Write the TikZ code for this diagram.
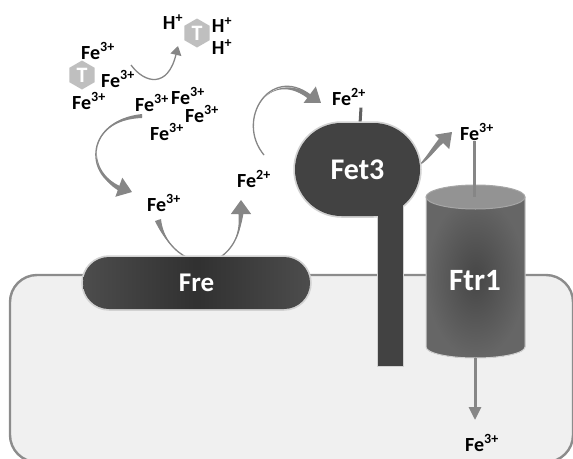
\documentclass[tikz,border=0pt]{standalone}
\usepackage{fontspec}
\setmainfont{Carlito}
\usetikzlibrary{arrows.meta,shapes.geometric,shapes.misc}
\tikzset{
    ion/.style={font=\fontsize{20}{20}\bfseries, inner sep=0pt},
    protein/.style={font=\fontsize{27}{27}\bfseries, text=white, inner sep=0pt},
    hexring/.style={regular polygon, regular polygon sides=6, regular polygon rotate=30, minimum size=29pt, inner sep=0pt, fill=gray!50!white, text=white, font=\fontsize{22}{22}\bfseries},
    halo/.style={preaction={draw=gray!35, line width=3.5pt}},
    flow/.style={draw=gray!95, -{Triangle[length=14pt,width=20pt]}},
    flowthin/.style={draw=gray!95, line width=1.3pt, -{Triangle[length=9pt,width=11pt]}},
    taper/.style={fill=gray!95},
}
\newcommand{\feiii}{Fe\textsuperscript{3+}}
\newcommand{\feii}{Fe\textsuperscript{2+}}
\newcommand{\hplus}{H\textsuperscript{+}}
\begin{document}
\begin{tikzpicture}[x=1pt,y=-1pt]
    \clip (0,0) rectangle (573,458);
    % cell
    \filldraw [draw=gray!90, fill=gray!12, line width=2.4pt, rounded corners=27pt] (10,275) rectangle (573,462);

    % ions outside
    \node[ion] (outA) at (98,51) {\feiii};
    \node[hexring] (chelA) at (82,75) {T};
    \node[ion] (outB) at (118,79) {\feiii};
    \node[ion] (outC) at (89,101) {\feiii};
    \node[ion] (poolA) at (152,103) {\feiii};
    \node[ion] (poolB) at (188,96) {\feiii};
    \node[ion] (poolC) at (202,114) {\feiii};
    \node[ion] (poolD) at (167,132) {\feiii};
    \node[ion] (hA) at (173,22) {\hplus};
    \node[hexring] (chelB) at (197,33) {T};
    \node[ion] (hB) at (222,25) {\hplus};
    \node[ion] (hC) at (222,47) {\hplus};
    \node[ion] (ferric) at (164,203) {\feiii};
    \node[ion] (ferrous) at (254,179) {\feii};
    \node[ion] (ferrousTop) at (349,97) {\feii};
    \node[ion] (oxid) at (477,132) {\feiii};
    \node[ion] (inner) at (482,443) {\feiii};

    % free ends of the arrows
    \coordinate (uStart) at (158,220);
    \coordinate (uLeft) at (188,258);
    \coordinate (uRight) at (219,258);
    \coordinate (uTip) at (241,200);
    \coordinate (chelTip) at (178,46);
    \coordinate (chelStart) at (131,65);
    \coordinate (poolStart) at (142,116);
    \coordinate (poolTip) at (132,192);
    \coordinate (topStart) at (264,155);
    \coordinate (topTip) at (321,103);
    \coordinate (fetOut) at (419,165);
    \coordinate (fetTip) at (452,132);

    % arrows behind the proteins
    \draw [flow, line width=1.3pt] (uStart) .. controls (163,238) and (175,252) .. (uLeft) -- (uRight) .. controls (235,248) and (241,230) .. (uTip);
    \fill [taper] (155,221) .. controls (163,238) and (175,252) .. (uLeft) .. controls (175,252) and (163,238) .. (161,219) -- cycle;
    \fill [taper] (uRight) .. controls (235,248) and (241,230) .. (244,210) -- (238,210) .. controls (241,230) and (235,248) .. (uRight) -- cycle;
    \draw [flowthin] (chelStart) .. controls (145,84) and (168,88) .. (chelTip);
    \draw [flow, line width=1.3pt] (poolStart) .. controls (85,120) and (85,175) .. (poolTip);
    \fill [taper] (142,114) .. controls (85,120) and (85,175) .. (125,188) -- (123,193) .. controls (85,175) and (85,120) .. (142,118) -- cycle;
    \draw [flow, line width=1.3pt] (topStart) .. controls (235,120) and (270,65) .. (topTip);
    \fill [taper] (314,97) .. controls (270,65) and (235,120) .. (264,155) .. controls (235,120) and (270,65) .. (311,101) -- cycle;
    \draw [draw=gray!75!black, line width=3pt] (ferrousTop.south) ++(12,2) -- (360,124);
    \draw [flow, line width=1.3pt] (fetOut) .. controls (430,158) and (437,147) .. (fetTip);
    \fill [taper] (fetOut) .. controls (430,158) and (437,147) .. (446,141) -- (442,135) .. controls (432,147) and (428,155) .. (fetOut) -- cycle;
    \draw [draw=gray!95, line width=3pt] (474,141) -- (474,197);

    % Fet3
    \filldraw [draw=gray!35, line width=1pt, fill=gray!52!black] (377.5,200) rectangle (403.5,366);
    \node[rounded rectangle, minimum width=125pt, minimum height=93pt, fill=gray!52!black, halo, protein, font=\fontsize{30}{30}\bfseries] (fet) at (357.5,169.5) {Fet3};
    \fill [gray!52!black] (378,205) rectangle (403,230);

    % Ftr1
    \filldraw [draw=gray!35, line width=1pt, inner color=gray!55!black, outer color=gray!80!black]
        (426,197) -- (426,347) arc[x radius=49.5, y radius=11, start angle=180, end angle=0] -- (525,197) -- cycle;
    \draw [draw=gray!70, line width=1pt, fill=gray!85] (475.5,197) ellipse [x radius=49.5, y radius=12];
    \draw [draw=gray!95, line width=3pt] (474,170) -- (474,197);
    \node[protein, font=\fontsize{31}{31}\bfseries] (ftr) at (475,281) {Ftr1};
    \draw [draw=gray!95, line width=3pt, -{Triangle[length=13pt,width=12pt]}] (ftr |- 0,358) -- (ftr |- 0,420);

    % Fre
    \node[rounded rectangle, minimum width=227pt, minimum height=52pt, left color=gray!60!black, right color=gray!60!black, middle color=gray!38!black, halo, protein] (fre) at (196.5,283) {Fre};
\end{tikzpicture}
\end{document}
